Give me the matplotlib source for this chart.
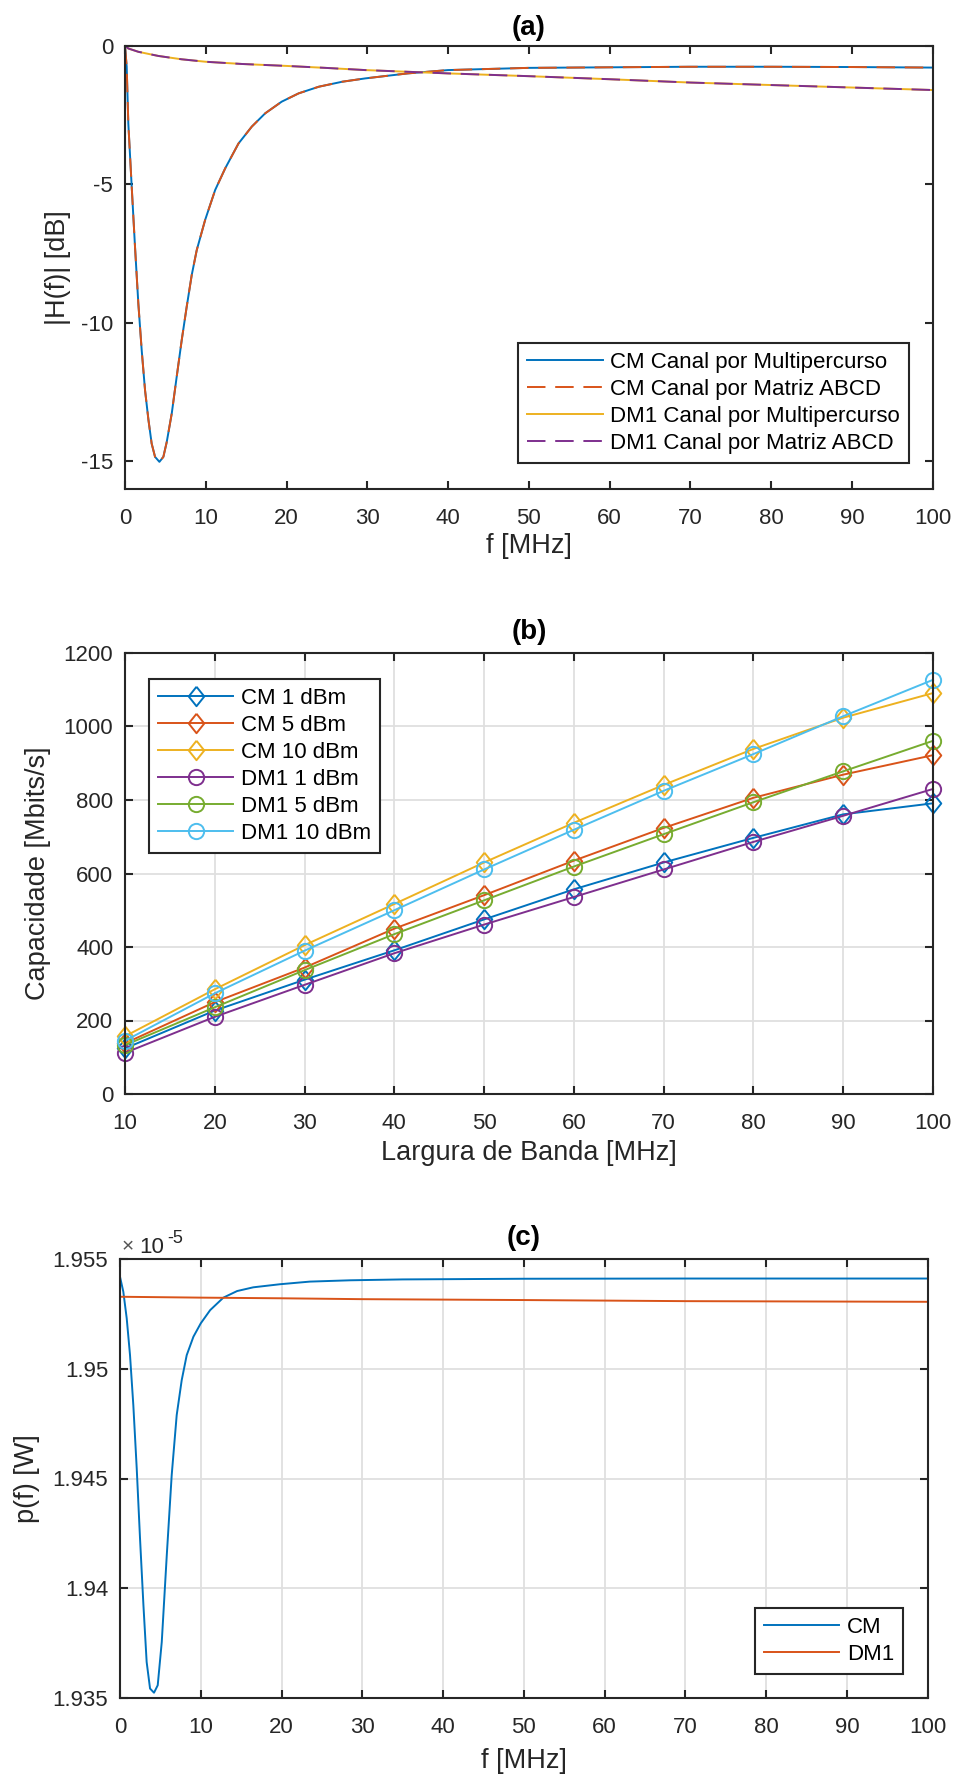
import matplotlib.pyplot as plt
from matplotlib.ticker import FuncFormatter

plt.rcParams["font.family"] = ["Liberation Sans", "DejaVu Sans"]
plt.rcParams["axes.unicode_minus"] = False

AZUL = "#0072BD"
LARANJA = "#D95319"
AMARELO = "#EDB120"
ROXO = "#7E2F8E"
VERDE = "#77AC30"
CIANO = "#4DBEEE"
CINZA = "#262626"

LARGURA, ALTURA = 955, 1780

# (a) resposta em frequencia |H(f)| [dB]
f_cm = [0, 0.21, 0.41, 0.83, 1.24, 1.65, 2.07, 2.48, 2.9, 3.3, 3.72, 4.26, 4.75, 5.17,
        5.79, 6.4, 7.02, 7.64, 8.26, 8.88, 9.92, 11.16, 12.4, 14.05, 15.7, 17.36,
        19.4, 21.5, 24, 26.9, 29.75, 35, 40, 50, 60, 70, 80, 90, 100]
h_cm_multipercurso = [0, -0.76, -2.8, -5.09, -7.26, -9.3, -11.0, -12.43, -13.5, -14.36,
                      -14.84, -15.02, -14.84, -14.3, -13.27, -11.95, -10.63, -9.42,
                      -8.28, -7.38, -6.29, -5.21, -4.43, -3.53, -2.92, -2.44, -2.02,
                      -1.72, -1.48, -1.3, -1.18, -1.0, -0.88, -0.80, -0.78, -0.76,
                      -0.76, -0.77, -0.79]
# as duas curvas CM coincidem no grafico
h_cm_abcd = h_cm_multipercurso

f_dm1 = [0, 0.41, 1.65, 4.13, 7, 10, 14.5, 20, 24.8, 29.75, 40, 50, 60, 70, 80, 90, 100]
h_dm1_multipercurso = [0, -0.1, -0.22, -0.37, -0.49, -0.58, -0.66, -0.73, -0.8, -0.88,
                       -1.0, -1.1, -1.21, -1.33, -1.42, -1.51, -1.6]
h_dm1_abcd = h_dm1_multipercurso

# (b) capacidade x largura de banda
largura_banda = [10, 20, 30, 40, 50, 60, 70, 80, 90, 100]
cap_cm_1 = [124, 227, 311, 391, 475, 557, 630, 697, 761, 791]
cap_cm_5 = [138, 250, 344, 450, 541, 635, 724, 806, 869, 922]
cap_cm_10 = [157, 285, 405, 517, 630, 738, 841, 939, 1024, 1091]
cap_dm1_1 = [112, 210, 297, 383, 461, 536, 611, 686, 757, 830]
cap_dm1_5 = [133, 236, 337, 435, 527, 619, 707, 794, 878, 961]
cap_dm1_10 = [145, 274, 390, 500, 611, 719, 825, 925, 1028, 1127]

# (c) potencia p(f) [W]
f_p_cm = [0, 0.41, 0.83, 1.24, 1.65, 2.07, 2.48, 2.9, 3.3, 3.72, 4.21, 4.67, 5.17, 5.79,
          6.4, 7.02, 7.64, 8.26, 9.09, 10, 11.16, 12.8, 14.5, 16.5, 19.8, 23.5, 28.5,
          35, 50, 70, 100]
p_cm = [1.95419e-5, 1.95351e-5, 1.95230e-5, 1.95062e-5, 1.94834e-5, 1.94546e-5,
        1.94226e-5, 1.93923e-5, 1.93664e-5, 1.93543e-5, 1.93524e-5, 1.93558e-5,
        1.93755e-5, 1.94150e-5, 1.94515e-5, 1.94789e-5, 1.94948e-5, 1.95062e-5,
        1.95146e-5, 1.95207e-5, 1.95267e-5, 1.95324e-5, 1.95354e-5, 1.95371e-5,
        1.95385e-5, 1.95397e-5, 1.95403e-5, 1.95407e-5, 1.95410e-5, 1.95411e-5,
        1.95411e-5]
f_p_dm1 = [0, 10, 20, 30, 50, 70, 100]
p_dm1 = [1.95328e-5, 1.95324e-5, 1.95321e-5, 1.95317e-5, 1.95313e-5, 1.95308e-5,
         1.95305e-5]


def criar_eixo(fig, esquerda, topo, direita, base):
    return fig.add_axes([esquerda / LARGURA, 1 - base / ALTURA,
                         (direita - esquerda) / LARGURA, (base - topo) / ALTURA])


def estilo_eixo(eixo, grade=False):
    for borda in eixo.spines.values():
        borda.set_color(CINZA)
        borda.set_linewidth(1.5)
    eixo.tick_params(direction="in", top=True, right=True, length=6, width=1.5,
                     colors=CINZA, labelsize=16)
    eixo.tick_params(axis="x", pad=14)
    eixo.tick_params(axis="y", pad=8.5)
    if grade:
        eixo.grid(True, color="#dfdfdf", linewidth=1.3)
        eixo.set_axisbelow(True)


def titulo(eixo, texto, y):
    eixo.text(0.5, y, texto, transform=eixo.transAxes, ha="center", va="center",
              fontsize=20, fontweight="bold", color="black")


def legenda(eixo, loc, ancora):
    leg = eixo.legend(loc=loc, bbox_to_anchor=ancora, borderaxespad=0, fontsize=16,
                      fancybox=False, framealpha=1, borderpad=0.4,
                      handlelength=3.4, handletextpad=0.35, labelspacing=0.27)
    leg.get_frame().set_edgecolor(CINZA)
    leg.get_frame().set_linewidth(1.5)
    for texto in leg.get_texts():
        texto.set_color("black")
    return leg


fig = plt.figure(figsize=(LARGURA / 100, ALTURA / 100), dpi=100)

# ---- (a)
eixo_a = criar_eixo(fig, 125, 45.7, 932.7, 489)
eixo_a.plot(f_cm, h_cm_multipercurso, color=AZUL, lw=1.4, label="CM Canal por Multipercurso")
eixo_a.plot(f_cm, h_cm_abcd, color=LARANJA, lw=1.4, linestyle=(0, (9.5, 5)),
            label="CM Canal por Matriz ABCD")
eixo_a.plot(f_dm1, h_dm1_multipercurso, color=AMARELO, lw=1.4,
            label="DM1 Canal por Multipercurso")
eixo_a.plot(f_dm1, h_dm1_abcd, color=ROXO, lw=1.4, linestyle=(0, (9.5, 5)),
            label="DM1 Canal por Matriz ABCD")
eixo_a.set_xlim(0, 100)
eixo_a.set_ylim(-16, 0)
eixo_a.set_xticks(range(0, 101, 10))
eixo_a.set_yticks([-15, -10, -5, 0])
estilo_eixo(eixo_a)
eixo_a.set_xlabel("f [MHz]", fontsize=19.5, color=CINZA)
eixo_a.set_ylabel("|H(f)| [dB]", fontsize=19.5, color=CINZA)
eixo_a.xaxis.set_label_coords(0.5, -0.099)
eixo_a.yaxis.set_label_coords(-0.0672, 0.5)
titulo(eixo_a, "(a)", 1.0408)
legenda(eixo_a, "lower right", (0.9707, 0.0587))

# ---- (b)
eixo_b = criar_eixo(fig, 125, 653, 933, 1094)
diamante = [(0, 1), (0.8, 0), (0, -1), (-0.8, 0), (0, 1)]
series_b = [
    (cap_cm_1, AZUL, diamante, 14, "CM 1 dBm"),
    (cap_cm_5, LARANJA, diamante, 14, "CM 5 dBm"),
    (cap_cm_10, AMARELO, diamante, 14, "CM 10 dBm"),
    (cap_dm1_1, ROXO, "o", 11, "DM1 1 dBm"),
    (cap_dm1_5, VERDE, "o", 11, "DM1 5 dBm"),
    (cap_dm1_10, CIANO, "o", 11, "DM1 10 dBm"),
]
for valores, cor, marcador, tamanho, rotulo in series_b:
    eixo_b.plot(largura_banda, valores, color=cor, lw=1.4, marker=marcador,
                markersize=tamanho, markerfacecolor="none", markeredgewidth=1.4,
                clip_on=False, label=rotulo)
eixo_b.set_xlim(10, 100)
eixo_b.set_ylim(0, 1200)
eixo_b.set_xticks(range(10, 101, 10))
eixo_b.set_yticks(range(0, 1201, 200))
estilo_eixo(eixo_b, grade=True)
eixo_b.set_xlabel("Largura de Banda [MHz]", fontsize=19.5, color=CINZA)
eixo_b.set_ylabel("Capacidade [Mbits/s]", fontsize=19.5, color=CINZA)
eixo_b.xaxis.set_label_coords(0.5, -0.104)
eixo_b.yaxis.set_label_coords(-0.0916, 0.5)
titulo(eixo_b, "(b)", 1.0465)
legenda(eixo_b, "upper left", (0.0297, 0.9415))

# ---- (c)
eixo_c = criar_eixo(fig, 120, 1259, 927.7, 1698)
eixo_c.plot(f_p_cm, p_cm, color=AZUL, lw=1.4, label="CM")
eixo_c.plot(f_p_dm1, p_dm1, color=LARANJA, lw=1.4, label="DM1")
eixo_c.set_xlim(0, 100)
eixo_c.set_ylim(1.935e-5, 1.955e-5)
eixo_c.set_xticks(range(0, 101, 10))
eixo_c.set_yticks([1.935e-5, 1.94e-5, 1.945e-5, 1.95e-5, 1.955e-5])
eixo_c.yaxis.set_major_formatter(FuncFormatter(lambda v, pos: "%g" % round(v * 1e5, 4)))
estilo_eixo(eixo_c, grade=True)
eixo_c.set_xlabel("f [MHz]", fontsize=19.5, color=CINZA)
eixo_c.set_ylabel("p(f) [W]", fontsize=19.5, color=CINZA)
eixo_c.xaxis.set_label_coords(0.5, -0.114)
eixo_c.yaxis.set_label_coords(-0.099, 0.5)
# fator de escala do eixo y, como no MATLAB
fig.text(122 / LARGURA, 1 - 1252.7 / ALTURA, "×", fontsize=15, color="#555555",
         ha="left", va="baseline")
fig.text(139 / LARGURA, 1 - 1252.7 / ALTURA, "10", fontsize=16, color=CINZA,
         ha="left", va="baseline")
fig.text(167 / LARGURA, 1 - 1243 / ALTURA, "-5", fontsize=13, color=CINZA,
         ha="left", va="baseline")
titulo(eixo_c, "(c)", 1.0467)
legenda(eixo_c, "lower right", (0.9694, 0.0554))

fig.savefig("out.png", dpi=100)
